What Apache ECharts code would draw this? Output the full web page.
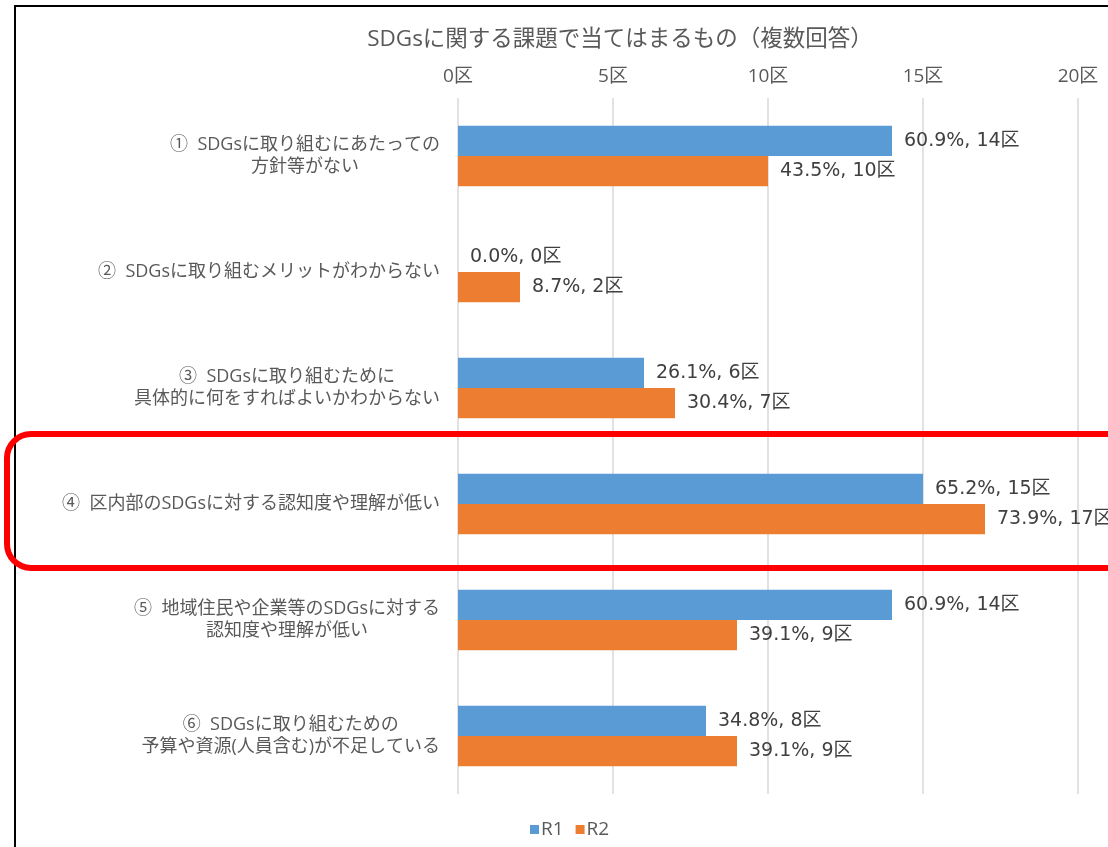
<!DOCTYPE html>
<html>
<head>
<meta charset="utf-8">
<script src="https://cdn.jsdelivr.net/npm/echarts@6/dist/echarts.min.js"></script>
<style>
  html, body { margin: 0; padding: 0; background: #fff; }
</style>
</head>
<body>
<div id="main" style="width:1108px;height:847px;"></div>
<script type="text/javascript">
	// データ
	var categories = [
		['①  SDGsに取り組むにあたっての', '方針等がない'],
		['②  SDGsに取り組むメリットがわからない'],
		['③  SDGsに取り組むために', '具体的に何をすればよいかわからない'],
		['④  区内部のSDGsに対する認知度や理解が低い'],
		['⑤  地域住民や企業等のSDGsに対する', '認知度や理解が低い'],
		['⑥  SDGsに取り組むための', '予算や資源(人員含む)が不足している']
	];
	var r1Count = [14, 0, 6, 15, 14, 8];
	var r2Count = [10, 2, 7, 17, 9, 9];
	var r1Pct = ['60.9', '0.0', '26.1', '65.2', '60.9', '34.8'];
	var r2Pct = ['43.5', '8.7', '30.4', '73.9', '39.1', '39.1'];
	var xTicks = [0, 5, 10, 15, 20];

	var font = '"Open Sans", "Noto Sans CJK JP", sans-serif';
	var labelFont = '"DejaVu Sans", "Noto Sans CJK JP", sans-serif';
	var catNames = categories.map(function (c) { return c.join('\n'); });

	var chart = echarts.init(document.getElementById('main'));
	chart.setOption({
		backgroundColor: '#ffffff',
		textStyle: { fontFamily: font },
		title: {
			text: 'SDGsに関する課題で当てはまるもの（複数回答）',
			left: 615,
			top: 23,
			textAlign: 'center',
			textStyle: { fontFamily: font, fontSize: 22.5, fontWeight: 'normal', color: '#595959' }
		},
		legend: {
			data: ['R1', 'R2'],
			left: 525,
			top: 815,
			icon: 'rect',
			itemWidth: 9,
			itemHeight: 9,
			itemGap: 12,
			textStyle: { fontFamily: font, fontSize: 19, color: '#595959', padding: [0, 0, 0, -3] }
		},
		grid: { left: 458, right: 30, top: 98, bottom: 53 },
		xAxis: {
			type: 'value',
			position: 'top',
			min: xTicks[0],
			max: xTicks[xTicks.length - 1],
			interval: 5,
			axisLine: { show: false },
			axisTick: { show: false },
			axisLabel: {
				formatter: '{value}区',
				fontFamily: font,
				fontSize: 19,
				color: '#595959',
				margin: 12
			},
			splitLine: { lineStyle: { color: '#D9D9D9', width: 1.5 } }
		},
		yAxis: {
			type: 'category',
			inverse: true,
			data: catNames,
			axisLine: { show: false },
			axisTick: { show: false },
			axisLabel: {
				margin: 18,
				formatter: function (v) {
					return v.split('\n').map(function (s) { return '{c|' + s + '}'; }).join('\n');
				},
				rich: {
					c: { align: 'center', fontFamily: font, fontSize: 18, color: '#595959', lineHeight: 22 }
				}
			}
		},
		series: [{
			name: 'R1',
			type: 'bar',
			data: r1Count,
			barGap: '0%',
			barCategoryGap: '48%',
			itemStyle: { color: '#5B9BD5' },
			label: {
				show: true,
				position: 'right',
				distance: 12,
				fontFamily: labelFont,
				fontSize: 19,
				color: '#404040',
				formatter: function (p) { return r1Pct[p.dataIndex] + '%, ' + p.value + '区'; }
			}
		}, {
			name: 'R2',
			type: 'bar',
			data: r2Count,
			itemStyle: { color: '#ED7D31' },
			label: {
				show: true,
				position: 'right',
				distance: 12,
				fontFamily: labelFont,
				fontSize: 19,
				color: '#404040',
				formatter: function (p) { return r2Pct[p.dataIndex] + '%, ' + p.value + '区'; }
			}
		}],
		graphic: [{
			// 外枠
			type: 'rect',
			shape: { x: 15, y: 6, width: 1300, height: 1000 },
			style: { fill: 'none', stroke: '#000000', lineWidth: 2 },
			silent: true,
			z: 100
		}, {
			// 強調枠（④）
			type: 'rect',
			shape: { x: 7, y: 434, width: 1300, height: 134, r: 24 },
			style: { fill: 'none', stroke: '#FF0000', lineWidth: 6 },
			silent: true,
			z: 100
		}]
	});
</script>
</body>
</html>
